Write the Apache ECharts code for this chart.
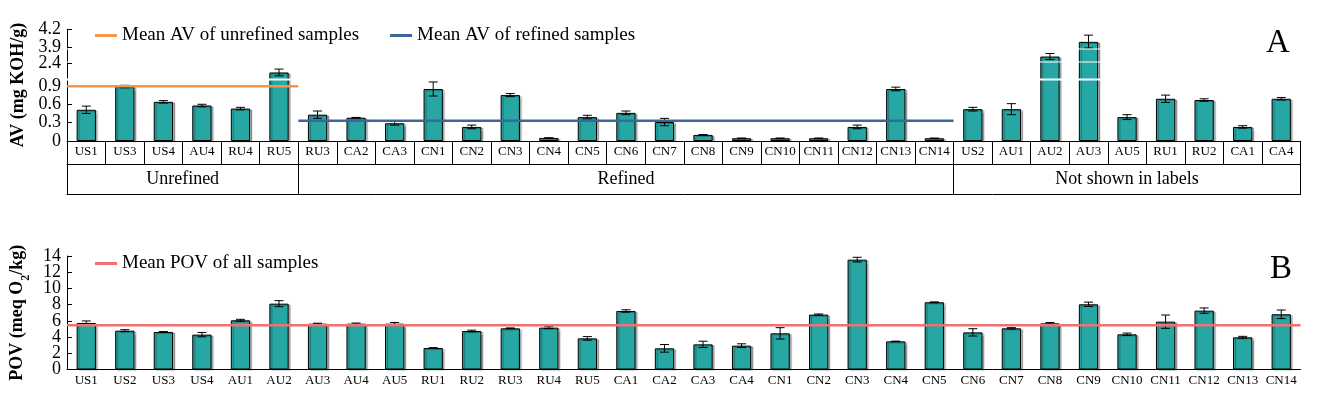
<!DOCTYPE html>
<html>
<head>
<meta charset="utf-8">
<script src="https://cdn.jsdelivr.net/npm/echarts@6.0.0/dist/echarts.min.js"></script>
<style>
html, body { margin: 0; padding: 0; background: #fff; }
#main { width: 1320px; height: 397px; }
</style>
</head>
<body>
<div id="main"></div>
<script>
// panel A - acid value
var catA = ['US1','US3','US4','AU4','RU4','RU5','RU3','CA2','CA3','CN1','CN2','CN3','CN4','CN5','CN6','CN7',
            'CN8','CN9','CN10','CN11','CN12','CN13','CN14','US2','AU1','AU2','AU3','AU5','RU1','RU2','CA1','CA4'];
var avVal = [0.51,0.89,0.64,0.58,0.53,2.25,0.43,0.38,0.29,0.85,0.23,0.75,0.05,0.39,0.46,0.31,
             0.10,0.045,0.045,0.045,0.23,0.85,0.045,0.52,0.52,3.04,3.99,0.39,0.69,0.67,0.23,0.69];
var avErr = [0.06,0.02,0.02,0.02,0.02,0.055,0.06,0.005,0.03,0.115,0.03,0.025,0.003,0.03,0.03,0.06,
             0.005,0.003,0.003,0.003,0.03,0.03,0.003,0.03,0.09,0.05,0.11,0.04,0.06,0.02,0.02,0.02];
var groupNames = ['Unrefined', 'Refined', 'Not shown in labels'];
var groupEdges = [0, 6, 23, 32];
var avTicks = [0, 0.3, 0.6, 0.9, 2.4, 3.9, 4.2];
var avBreaks = [[1.0, 2.15], [2.41, 2.96], [3.16, 3.89]];
var meanAvUnref = 0.895;
var meanAvRef = 0.33;

// panel B - peroxide value
var catB = ['US1','US2','US3','US4','AU1','AU2','AU3','AU4','AU5','RU1','RU2','RU3','RU4','RU5','CA1','CA2',
            'CA3','CA4','CN1','CN2','CN3','CN4','CN5','CN6','CN7','CN8','CN9','CN10','CN11','CN12','CN13','CN14'];
var povVal = [5.74,4.79,4.63,4.30,6.07,8.12,5.65,5.65,5.65,2.65,4.75,5.08,5.16,3.84,7.22,2.61,
              3.10,2.94,4.46,6.77,13.55,3.47,8.29,4.58,5.08,5.69,8.04,4.34,5.90,7.26,3.97,6.81];
var povErr = [0.25,0.12,0.05,0.27,0.12,0.37,0.06,0.08,0.15,0.05,0.1,0.05,0.12,0.22,0.15,0.47,
              0.39,0.23,0.70,0.08,0.29,0.03,0.05,0.45,0.08,0.1,0.27,0.15,0.82,0.33,0.12,0.53];
var povTicks = [0, 2, 4, 6, 8, 10, 12, 14];
var meanPov = 5.45;

var serif = "'Liberation Serif', 'Times New Roman', serif";
var barColor = '#27a7a4';

// labels are tight, so they go on two overlaid axes (even / odd ticks)
var povLabelsEven = povTicks.filter(function (v, i) { return i % 2 === 0; });
var povLabelsOdd = povTicks.filter(function (v, i) { return i % 2 === 1; });

function errData(vals, errs) {
  return vals.map(function (v, i) { return [i, v - errs[i], v + errs[i]]; });
}

function errItem(params, api) {
  var x = api.value(0);
  var lo = api.coord([x, api.value(1)]);
  var hi = api.coord([x, api.value(2)]);
  var w = 4.5;
  var st = { stroke: '#000', lineWidth: 1 };
  return {
    type: 'group',
    children: [
      { type: 'line', shape: { x1: lo[0], y1: lo[1], x2: hi[0], y2: hi[1] }, style: st },
      { type: 'line', shape: { x1: lo[0] - w, y1: lo[1], x2: lo[0] + w, y2: lo[1] }, style: st },
      { type: 'line', shape: { x1: hi[0] - w, y1: hi[1], x2: hi[0] + w, y2: hi[1] }, style: st }
    ]
  };
}

var groupMid = [];
for (var g = 0; g < groupNames.length; g++) {
  groupMid.push((groupEdges[g] + groupEdges[g + 1]) / 2);
}

var chart = echarts.init(document.getElementById('main'));

var blackLine = { show: true, lineStyle: { color: '#000', width: 1 } };
var barStyle = {
  color: barColor, borderColor: '#000', borderWidth: 1,
  shadowColor: 'rgba(0,0,0,0.3)', shadowOffsetX: 2, shadowOffsetY: 1, shadowBlur: 1
};
var yLabel = { margin: 6, fontFamily: serif, fontSize: 18, color: '#000', showMinLabel: true, showMaxLabel: true };

var option = {
  animation: false,
  textStyle: { fontFamily: serif },
  grid: [
    { left: 67, right: 19.5, top: 29, bottom: 256 },
    { left: 67, right: 19.5, top: 256, bottom: 27.5 }
  ],
  legend: [
    {
      left: 95, top: 26, padding: 0, itemGap: 31, itemWidth: 22, itemHeight: 3, icon: 'rect',
      textStyle: { fontFamily: serif, fontSize: 19, color: '#000' },
      data: ['Mean AV of unrefined samples', 'Mean AV of refined samples']
    },
    {
      left: 95, top: 254, padding: 0, itemWidth: 22, itemHeight: 3, icon: 'rect',
      textStyle: { fontFamily: serif, fontSize: 19, color: '#000' },
      data: ['Mean POV of all samples']
    }
  ],
  graphic: [
    { type: 'text', left: 1266, top: 27, z: 200, style: { text: 'A', font: '33px ' + serif, fill: '#000' } },
    { type: 'text', left: 1270, top: 253, z: 200, style: { text: 'B', font: '33px ' + serif, fill: '#000' } }
  ],
  xAxis: [
    {
      gridIndex: 0, type: 'category', data: catA, position: 'bottom',
      axisLine: blackLine,
      axisTick: { show: true, interval: 0, length: 23, lineStyle: { color: '#000' } },
      axisLabel: { interval: 0, margin: 4, fontFamily: serif, fontSize: 13, color: '#000' }
    },
    {
      gridIndex: 0, type: 'value', min: 0, max: 32, position: 'bottom', offset: 23,
      axisLine: blackLine,
      axisTick: { show: true, length: 30, customValues: groupEdges, lineStyle: { color: '#000' } },
      axisLabel: {
        customValues: groupMid, margin: 6, fontFamily: serif, fontSize: 18, color: '#000',
        formatter: function (v) { return groupNames[groupMid.indexOf(v)]; }
      },
      splitLine: { show: false }
    },
    {
      gridIndex: 0, type: 'value', min: 0, max: 32, position: 'bottom', offset: 53,
      axisLine: blackLine, axisTick: { show: false }, axisLabel: { show: false }, splitLine: { show: false }
    },
    {
      gridIndex: 1, type: 'category', data: catB, position: 'bottom',
      axisLine: blackLine, axisTick: { show: false },
      axisLabel: { interval: 0, margin: 5, fontFamily: serif, fontSize: 13, color: '#000' }
    },
    {
      gridIndex: 1, type: 'value', min: 0, max: 32, show: false
    }
  ],
  yAxis: [
    {
      gridIndex: 0, type: 'value', min: 0, max: 4.2,
      name: 'AV (mg KOH/g)', nameLocation: 'middle', nameGap: 40,
      nameTextStyle: { fontFamily: serif, fontSize: 18, fontWeight: 'bold', color: '#000' },
      axisLine: blackLine,
      axisTick: { show: true, inside: true, length: 5, customValues: avTicks, lineStyle: { color: '#000' } },
      axisLabel: Object.assign({}, yLabel, {
        customValues: avTicks, lineHeight: 14,
        formatter: function (v) { return String(+v.toFixed(1)); }
      }),
      splitLine: { show: false },
      breaks: avBreaks.map(function (b) { return { start: b[0], end: b[1], gap: 0.02 }; }),
      breakArea: {
        show: true, zigzagAmplitude: 0, expandOnClick: false,
        itemStyle: { color: '#fff', borderColor: '#fff', borderWidth: 0, opacity: 1 }
      },
      breakLabelLayout: { moveOverlap: false }
    },
    {
      gridIndex: 1, type: 'value', min: 0, max: 14, position: 'left',
      name: 'POV (meq O{sub|2}/kg)', nameLocation: 'middle', nameGap: 40,
      nameTextStyle: {
        fontFamily: serif, fontSize: 18, fontWeight: 'bold', color: '#000',
        rich: { sub: { fontFamily: serif, fontSize: 12, fontWeight: 'bold', color: '#000', verticalAlign: 'bottom', padding: [0, 0, -6, 0] } }
      },
      axisLine: blackLine,
      axisTick: { show: true, inside: true, length: 5, customValues: povTicks, lineStyle: { color: '#000' } },
      axisLabel: Object.assign({}, yLabel, { customValues: povLabelsEven }),
      splitLine: { show: false }
    },
    {
      gridIndex: 1, type: 'value', min: 0, max: 14, position: 'left', offset: 0,
      axisLine: { show: false }, axisTick: { show: false },
      axisLabel: Object.assign({}, yLabel, { customValues: povLabelsOdd }),
      splitLine: { show: false }
    }
  ],
  series: [
    {
      name: 'AV', type: 'bar', xAxisIndex: 0, yAxisIndex: 0, data: avVal,
      barWidth: '50%', itemStyle: barStyle
    },
    {
      type: 'custom', xAxisIndex: 0, yAxisIndex: 0, data: errData(avVal, avErr),
      renderItem: errItem, encode: { x: 0, y: [1, 2] }, z: 5
    },
    {
      name: 'Mean AV of unrefined samples', type: 'line', xAxisIndex: 1, yAxisIndex: 0,
      data: [[groupEdges[0], meanAvUnref], [groupEdges[1], meanAvUnref]],
      symbol: 'none', lineStyle: { color: '#f7964a', width: 2.5 }, itemStyle: { color: '#f7964a' }, z: 6
    },
    {
      name: 'Mean AV of refined samples', type: 'line', xAxisIndex: 1, yAxisIndex: 0,
      data: [[groupEdges[1], meanAvRef], [groupEdges[2], meanAvRef]],
      symbol: 'none', lineStyle: { color: '#3b679c', width: 2.5 }, itemStyle: { color: '#3b679c' }, z: 6
    },
    {
      name: 'POV', type: 'bar', xAxisIndex: 3, yAxisIndex: 1, data: povVal,
      barWidth: '50%', itemStyle: barStyle
    },
    {
      type: 'custom', xAxisIndex: 3, yAxisIndex: 1, data: errData(povVal, povErr),
      renderItem: errItem, encode: { x: 0, y: [1, 2] }, z: 5
    },
    {
      name: 'Mean POV of all samples', type: 'line', xAxisIndex: 4, yAxisIndex: 1,
      data: [[0, meanPov], [32, meanPov]],
      symbol: 'none', lineStyle: { color: '#f07171', width: 2.5 }, itemStyle: { color: '#f07171' }, z: 6
    }
  ]
};

chart.setOption(option);
</script>
</body>
</html>
